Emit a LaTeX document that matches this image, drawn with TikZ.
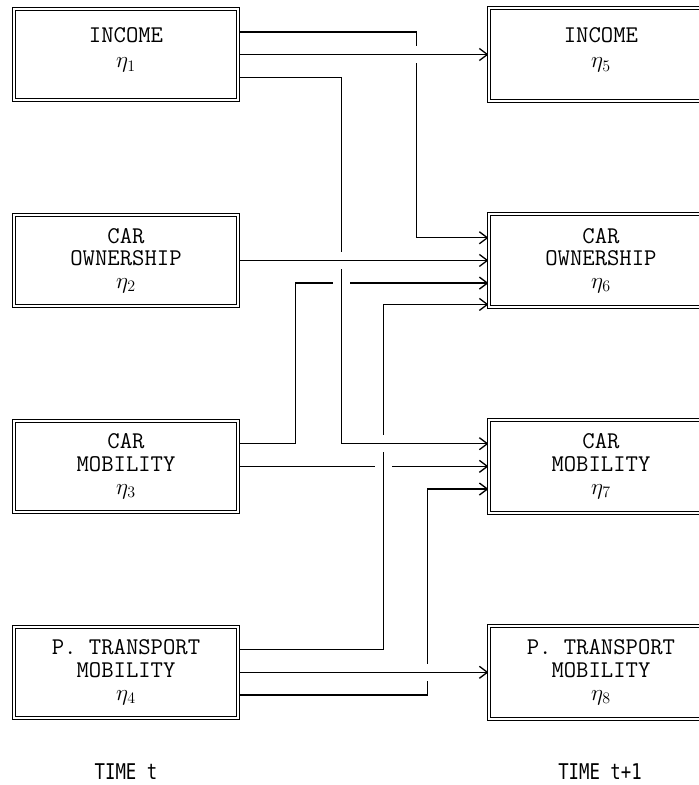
\documentclass[tikz,border=0pt]{standalone}
\usepackage{fontspec}
\newfontfamily\timefont{DejaVu Sans Mono}
\usetikzlibrary{arrows.meta,positioning}
\pgfdeclarelayer{background}
\pgfsetlayers{background,main}

\begin{document}
\begin{tikzpicture}[
  x=0.75pt,y=0.75pt,
  font=\ttfamily\fontsize{18}{17}\selectfont,
  node distance=85.5pt and 187.5pt,
  box/.style={draw,double,double distance=1.6pt,line width=0.7pt,minimum width=168pt,minimum height=68.25pt,inner sep=0pt,align=center},
  rbox/.style={box,minimum height=70pt},
  twoline/.style={text depth=10pt},
  arrow/.style={-{Straight Barb[length=6pt,width=9pt]},line width=1pt},
  link/.style={line width=1pt,preaction={draw=white,line width=13pt,-}},
  timelabel/.style={font=\timefont\fontsize{13}{15}\selectfont,yscale=1.25,transform shape},
]
\useasboundingbox (0,-785) rectangle (699,0);

% time t
\node[box,twoline] (inc1) at (126,-54.5) {INCOME\\[2pt]$\eta_1$};
\node[box,below=of inc1] (own2) {CAR\\OWNERSHIP\\$\eta_2$};
\node[box,below=of own2] (mob3) {CAR\\MOBILITY\\$\eta_3$};
\node[box,below=of mob3] (pt4) {P. TRANSPORT\\MOBILITY\\$\eta_4$};

% time t+1
\node[rbox,twoline,right=of inc1] (inc5) {INCOME\\[2pt]$\eta_5$};
\node[rbox,right=of own2] (own6) {CAR\\OWNERSHIP\\$\eta_6$};
\node[rbox,right=of mob3] (mob7) {CAR\\MOBILITY\\$\eta_7$};
\node[rbox,right=of pt4] (pt8) {P. TRANSPORT\\MOBILITY\\$\eta_8$};

\node[timelabel] (tnow) at (126,-772) {TIME t};
\node[timelabel] (tnext) at (600,-772) {TIME t+1};

% links, drawn bottom first so that later ones break the earlier
\begin{pgfonlayer}{background}
\draw[arrow,link] ([yshift=17pt]mob3.east) -- ++(57,0) |- ([yshift=-17pt]own6.west);
\draw[arrow,link] (mob3) -- (mob7);
\draw[arrow,link] ([yshift=17pt]pt4.east) -- ++(145,0) |- ([yshift=-33pt]own6.west);
\draw[arrow,link] ([yshift=-17pt]inc1.east) -- ++(103,0) |- ([yshift=17pt]mob7.west);
\draw[arrow,link] (own2) -- (own6);
\draw[arrow,link] ([yshift=17pt]inc1.east) -- ++(178,0) |- ([yshift=17pt]own6.west);
\draw[arrow,link] (inc1) -- (inc5);
\draw[arrow,link] ([yshift=-17pt]pt4.east) -- ++(189,0) |- ([yshift=-17pt]mob7.west);
\draw[arrow,link] (pt4) -- (pt8);
\end{pgfonlayer}

\end{tikzpicture}
\end{document}
